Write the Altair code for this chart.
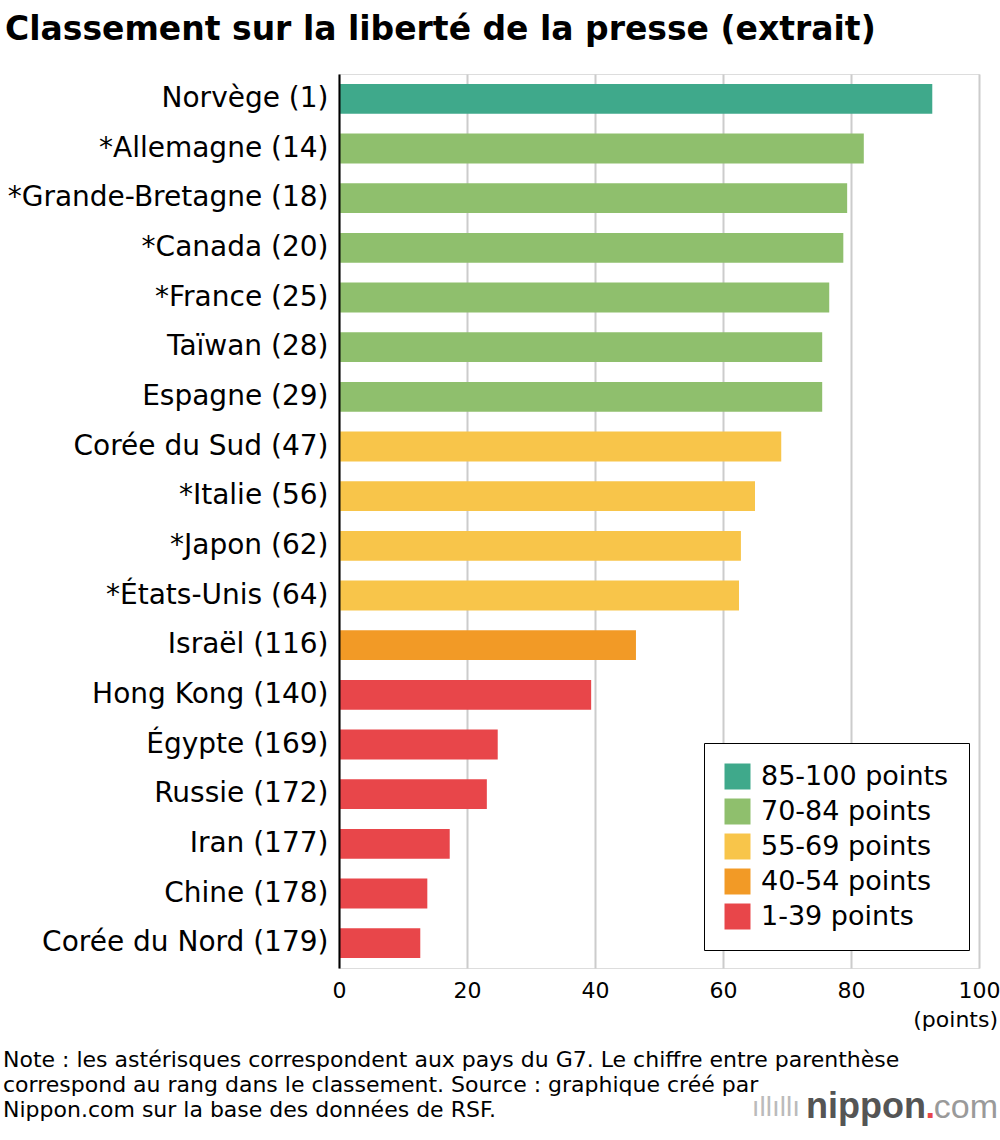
import altair as alt
import pandas as pd

countries = [
    "Norvège (1)", "*Allemagne (14)", "*Grande-Bretagne (18)", "*Canada (20)",
    "*France (25)", "Taïwan (28)", "Espagne (29)", "Corée du Sud (47)",
    "*Italie (56)", "*Japon (62)", "*États-Unis (64)", "Israël (116)",
    "Hong Kong (140)", "Égypte (169)", "Russie (172)", "Iran (177)",
    "Chine (178)", "Corée du Nord (179)",
]
scores = [92.7, 82.0, 79.4, 78.8, 76.6, 75.5, 75.5, 69.1, 65.0, 62.8, 62.5,
          46.4, 39.4, 24.8, 23.1, 17.3, 13.8, 12.7]
classes = ["85-100 points"] + ["70-84 points"] * 6 + ["55-69 points"] * 4 + \
          ["40-54 points"] + ["1-39 points"] * 6

class_order = ["85-100 points", "70-84 points", "55-69 points", "40-54 points", "1-39 points"]
class_colors = ["#3fa98b", "#8fbf6d", "#f8c54a", "#f29a26", "#e8464a"]
x_ticks = [0, 20, 40, 60, 80, 100]

title_text = "Classement sur la liberté de la presse (extrait)"
note_lines = [
    "Note : les astérisques correspondent aux pays du G7. Le chiffre entre parenthèse",
    "correspond au rang dans le classement. Source : graphique créé par",
    "Nippon.com sur la base des données de RSF.",
]

FONT = "DejaVu Sans"
LOGO_FONT = "Liberation Sans"

df = pd.DataFrame({"pays": countries, "score": scores, "classe": classes})

bars = alt.Chart(df).mark_bar().encode(
    y=alt.Y("pays:N", sort=countries,
            scale=alt.Scale(paddingInner=0.4, paddingOuter=0.2),
            axis=alt.Axis(title=None, labelFontSize=28, labelColor="black",
                          labelPadding=11, ticks=False, domainColor="black",
                          domainWidth=2, labelLimit=500, zindex=1, labelFont=FONT)),
    x=alt.X("score:Q", scale=alt.Scale(domain=[0, 100], nice=False),
            axis=alt.Axis(values=x_ticks, title=None, grid=True, gridColor="#cccccc",
                          gridWidth=2, domain=False, ticks=False, labelFontSize=22,
                          labelPadding=12, labelColor="black", labelFont=FONT,
                          labelFlush=False)),
    color=alt.Color("classe:N",
                    scale=alt.Scale(domain=class_order, range=class_colors),
                    legend=alt.Legend(title=None, orient="none", legendX=365, legendY=669,
                                      direction="vertical", symbolType="square",
                                      symbolSize=676, symbolStrokeWidth=0,
                                      symbolOpacity=1, labelFontSize=27,
                                      labelColor="black", labelFont=FONT,
                                      labelOffset=10, rowPadding=7, padding=20,
                                      strokeColor="black", fillColor="white",
                                      labelLimit=400)),
)

title = alt.Chart(pd.DataFrame({"t": [title_text]})).mark_text(
    align="left", baseline="alphabetic", fontSize=33, fontWeight="bold",
    font=FONT, color="black"
).encode(text="t:N", x=alt.value(-334), y=alt.value(-34))

notes_df = pd.DataFrame({"t": note_lines, "i": list(range(len(note_lines)))})
notes = alt.Chart(notes_df).mark_text(
    align="left", baseline="alphabetic", fontSize=22, font=FONT, color="black"
).encode(
    text="t:N",
    x=alt.value(-336),
    y=alt.Y("i:Q", scale=alt.Scale(domain=[0, 2], range=[993, 1043]), axis=None),
)

unit = alt.Chart(pd.DataFrame({"t": ["(points)"]})).mark_text(
    align="right", baseline="alphabetic", fontSize=22, font=FONT, color="black"
).encode(text="t:N", x=alt.value(659), y=alt.value(953))

logo_com = alt.Chart(pd.DataFrame({"t": ["com"]})).mark_text(
    align="right", baseline="alphabetic", fontSize=34, font=LOGO_FONT, color="#9a9a9a"
).encode(text="t:N", x=alt.value(659), y=alt.value(1044))
logo_dot = alt.Chart(pd.DataFrame({"t": ["."]})).mark_text(
    align="right", baseline="alphabetic", fontSize=34, fontWeight="bold", font=LOGO_FONT,
    color="#e8464a"
).encode(text="t:N", x=alt.value(596), y=alt.value(1044))
logo_nip = alt.Chart(pd.DataFrame({"t": ["nippon"]})).mark_text(
    align="right", baseline="alphabetic", fontSize=36, fontWeight="bold", font=LOGO_FONT,
    color="#555555"
).encode(text="t:N", x=alt.value(587), y=alt.value(1044))
logo_icon = alt.Chart(pd.DataFrame({"t": ["ıllıllı"]})).mark_text(
    align="right", baseline="alphabetic", fontSize=28, font=LOGO_FONT, color="#bbbbbb"
).encode(text="t:N", x=alt.value(461), y=alt.value(1042))

chart = alt.layer(bars, title, notes, unit, logo_com, logo_dot, logo_nip, logo_icon).resolve_scale(
    y="independent"
).properties(
    width=640, height=894,
    autosize=alt.AutoSizeParams(type="none"),
    padding={"left": 339, "top": 74, "right": 21, "bottom": 172},
    background="white",
).configure_view(stroke=None).configure_legend(strokeWidth=2).configure(font=FONT)

chart.save("out.html", embed_options={"renderer": "svg", "actions": False})
